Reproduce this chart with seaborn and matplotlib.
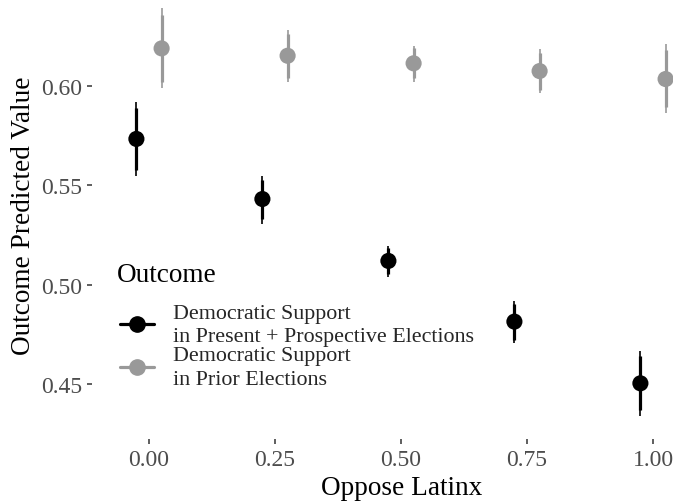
import numpy as np
import pandas as pd
import matplotlib
matplotlib.use("Agg")
import matplotlib.pyplot as plt
from matplotlib.lines import Line2D
import seaborn as sns

# ---- data ----
oppose = [0.00, 0.25, 0.50, 0.75, 1.00]
outcomes = ["Democratic Support\nin Present + Prospective Elections",
            "Democratic Support\nin Prior Elections"]

present_est = [0.5734, 0.5432, 0.5121, 0.4816, 0.4506]
present_lo95 = [0.5548, 0.5307, 0.5040, 0.4707, 0.4344]
present_hi95 = [0.5920, 0.5548, 0.5196, 0.4922, 0.4670]
present_lo90 = [0.5578, 0.5330, 0.5055, 0.4725, 0.4370]
present_hi90 = [0.5890, 0.5530, 0.5185, 0.4905, 0.4642]

prior_est = [0.6189, 0.6152, 0.6114, 0.6075, 0.6035]
prior_lo95 = [0.5988, 0.6019, 0.6022, 0.5963, 0.5864]
prior_hi95 = [0.6390, 0.6283, 0.6203, 0.6186, 0.6211]
prior_lo90 = [0.6020, 0.6041, 0.6038, 0.5982, 0.5893]
prior_hi90 = [0.6358, 0.6262, 0.6189, 0.6168, 0.6182]

yticks = [0.45, 0.50, 0.55, 0.60]
xticks = [0.00, 0.25, 0.50, 0.75, 1.00]

# ---- styling ----
colors = {outcomes[0]: "#000000", outcomes[1]: "#999999"}
dodge = {outcomes[0]: -0.025, outcomes[1]: 0.025}

sns.set_theme(style="white")
plt.rcParams["font.family"] = ["Liberation Serif", "DejaVu Serif"]

df = pd.concat([
    pd.DataFrame({"oppose": oppose, "outcome": outcomes[0], "est": present_est,
                  "lo95": present_lo95, "hi95": present_hi95,
                  "lo90": present_lo90, "hi90": present_hi90}),
    pd.DataFrame({"oppose": oppose, "outcome": outcomes[1], "est": prior_est,
                  "lo95": prior_lo95, "hi95": prior_hi95,
                  "lo90": prior_lo90, "hi90": prior_hi90}),
], ignore_index=True)
df["xpos"] = df["oppose"] + df["outcome"].map(dodge)

W, H = 673, 502
fig = plt.figure(figsize=(W / 100, H / 100), dpi=100)
# panel in pixel coordinates
left_px, right_px, top_px, bottom_px = 92, 710, -11, 440
ax = fig.add_axes([left_px / W, 1 - bottom_px / H,
                   (right_px - left_px) / W, (bottom_px - top_px) / H])

for out in outcomes:
    d = df[df["outcome"] == out]
    c = colors[out]
    ax.vlines(d["xpos"], d["lo95"], d["hi95"], color=c, lw=1.2, zorder=2)
    ax.vlines(d["xpos"], d["lo90"], d["hi90"], color=c, lw=2.3, zorder=2)

sns.scatterplot(data=df, x="xpos", y="est", hue="outcome", palette=colors,
                s=135, edgecolor="none", linewidth=0, ax=ax, legend=False,
                zorder=3)

# scale: 0 -> px 149, 1 -> px 653 ; 0.60 -> px 87, 1990 px per unit
px_per = 504.0
ax.set_xlim((left_px - 149) / px_per, (right_px - 149) / px_per)
ax.set_ylim(0.60 - (bottom_px - 87) / 1990.0, 0.60 - (top_px - 87) / 1990.0)

ax.set_xticks(xticks)
ax.set_xticklabels([f"{v:.2f}" for v in xticks])
ax.set_yticks(yticks)
ax.set_yticklabels([f"{v:.2f}" for v in yticks])
ax.tick_params(axis="both", which="both", length=3.8, width=1.1,
               color="#333333", labelcolor="#4d4d4d", labelsize=17,
               direction="out", pad=3.4, bottom=True, left=True)
for s in ax.spines.values():
    s.set_visible(False)
ax.grid(False)

ax.set_xlabel("Oppose Latinx", fontsize=19.6, color="black")
ax.set_ylabel("Outcome Predicted Value", fontsize=19.6, color="black")
ax.xaxis.set_label_coords(402 / W, 1 - 476 / H, transform=fig.transFigure)
ax.yaxis.set_label_coords(36 / W, 1 - 216 / H, transform=fig.transFigure)

fig.text(117 / W, 1 - 276 / H, "Outcome", fontsize=19.6, color="black",
         ha="left", va="center")

handles = [Line2D([0], [0], color=colors[o], lw=2.3, marker="o", markersize=11)
           for o in outcomes]
leg = ax.legend(handles, outcomes, loc="upper left",
                bbox_to_anchor=(120 / W, 1 - 304.5 / H), bbox_transform=fig.transFigure,
                frameon=False, fontsize=15.8,
                handlelength=1.55, handletextpad=0.86, labelspacing=0.0,
                borderaxespad=0, borderpad=0)
for t in leg.get_texts():
    t.set_linespacing(1.35)

fig.savefig("out.png", dpi=100)
